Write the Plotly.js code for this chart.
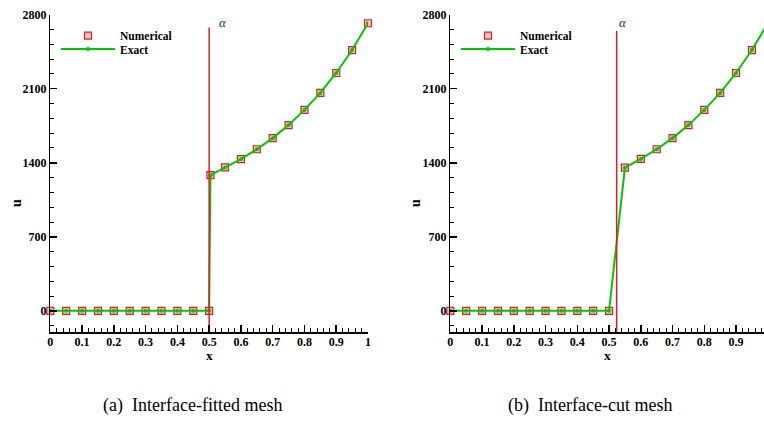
<!DOCTYPE html>
<html><head><meta charset="utf-8">
<script src="https://cdn.plot.ly/plotly-3.0.1.min.js"></script>
<style>html,body{margin:0;padding:0;background:#fff}#chart{width:764px;height:425px}</style>
</head><body><div id="chart"></div>
<script>
// ---- data ----
const xFitted = [0,0.05,0.1,0.15,0.2,0.25,0.3,0.35,0.4,0.45,0.5,0.504,0.55,0.6,0.65,0.7,0.75,0.8,0.85,0.9,0.95,1.0];
const uFittedNumerical = [0,0,0,0,0,0,0,0,0,0,0,1283,1356,1434,1528,1633,1756,1900,2060,2249,2466,2719];
const uFittedExact = [0,0,0,0,0,0,0,0,0,0,0,1283,1356,1434,1528,1633,1756,1900,2060,2249,2466,2719];
const xCut = [0,0.05,0.1,0.15,0.2,0.25,0.3,0.35,0.4,0.45,0.5,0.55,0.6,0.65,0.7,0.75,0.8,0.85,0.9,0.95,1.0];
const uCutNumerical = [0,0,0,0,0,0,0,0,0,0,0,1354,1436,1528,1633,1756,1900,2060,2249,2466,2719];
const uCutExact = [0,0,0,0,0,0,0,0,0,0,0,1354,1436,1528,1633,1756,1900,2060,2249,2466,2719];
const interfaceFittedX = [0.5, 0.5];
const interfaceCutX = [0.524, 0.524];
const interfaceFittedY = [-200, 2680];
const interfaceCutY = [-200, 2646];
const alphaLabelPos = [0.543, 2722];
const seriesNames = ['Numerical', 'Exact'];
const axisTitles = ['x', 'u'];
const captions = ['(a)\u00a0 Interface-fitted mesh', '(b)\u00a0 Interface-cut mesh'];
const yTickStep = 700;

const W = 764, H = 425;
const SERIF = 'Liberation Serif';
const boldFont = {family: SERIF, size: 12, color: '#000', weight: 'bold'};
const legendFont = {family: SERIF, size: 11.5, color: '#000', weight: 'bold'};
const titleFont = {family: SERIF, size: 14, color: '#000', weight: 'bold'};
const RED = 'rgb(222,30,30)';
const GREEN = 'rgb(0,200,0)';

function px(v){ return v / W; }
function py(v){ return 1 - v / H; }

function numTrace(x, y, xa, ya, lg){
  return {type:'scatter', mode:'markers', x:x, y:y, xaxis:xa, yaxis:ya, name:seriesNames[0], legend:lg,
    marker:{symbol:'square', size:7, color:'rgba(240,120,120,0.45)', line:{color:RED, width:1.2}}, cliponaxis:false};
}
function exTrace(x, y, xa, ya, lg){
  return {type:'scatter', mode:'lines+markers', x:x, y:y, xaxis:xa, yaxis:ya, name:seriesNames[1], legend:lg,
    line:{color:GREEN, width:2}, marker:{color:GREEN, size:4}};
}
function ifaceTrace(x, y, xa, ya){
  return {type:'scatter', mode:'lines', x:x, y:y, xaxis:xa, yaxis:ya, showlegend:false, hoverinfo:'skip',
    line:{color:RED, width:1.5}};
}

const data = [
  numTrace(xFitted, uFittedNumerical, 'x', 'y', 'legend'),
  exTrace(xFitted, uFittedExact, 'x', 'y', 'legend2'),
  ifaceTrace(interfaceFittedX, interfaceFittedY, 'x', 'y'),
  numTrace(xCut, uCutNumerical, 'x2', 'y2', 'legend3'),
  exTrace(xCut, uCutExact, 'x2', 'y2', 'legend4'),
  ifaceTrace(interfaceCutX, interfaceCutY, 'x2', 'y2')
];

function xAxis(dom, rng, anchor){
  return {domain:dom, range:rng, anchor:anchor, showline:true, linecolor:'#000', linewidth:1.5,
    ticks:'inside', ticklen:7, tickwidth:1.5, tickcolor:'#000', tick0:0, dtick:0.1,
    minor:{dtick:0.02, ticks:'inside', ticklen:4, tickwidth:1, tickcolor:'#000', showgrid:false},
    showgrid:false, zeroline:false, tickfont:boldFont, fixedrange:true, ticklabelstandoff:-2};
}
function yAxis(anchor){
  return {domain:[py(332), py(14.7)], range:[-200, 2800], anchor:anchor, showline:true, linecolor:'#000', linewidth:1.5,
    ticks:'inside', ticklen:7, tickwidth:1.5, tickcolor:'#000', tick0:0, dtick:yTickStep,
    minor:{dtick:yTickStep/5, ticks:'inside', ticklen:4, tickwidth:1, tickcolor:'#000', showgrid:false},
    showgrid:false, zeroline:false, tickfont:boldFont, fixedrange:true};
}
function legendAt(x, y, w){
  return {x:px(x), y:py(y), xanchor:'left', yanchor:'middle', bgcolor:'rgba(0,0,0,0)', borderwidth:0,
    itemwidth:w, font:legendFont, itemclick:false, itemdoubleclick:false};
}
function ann(o){ return Object.assign({showarrow:false, xanchor:'center', yanchor:'middle'}, o); }

const annotations = [
  ann({xref:'x', yref:'y', x:alphaLabelPos[0], y:alphaLabelPos[1], text:'α',
   font:{family:SERIF, size:13, color:'#333', style:'italic'}}),
  ann({xref:'x2', yref:'y2', x:alphaLabelPos[0], y:alphaLabelPos[1], text:'α',
   font:{family:SERIF, size:13, color:'#333', style:'italic'}}),
  ann({xref:'x domain', yref:'paper', x:0.5, y:py(347), yanchor:'top', borderpad:0, text:axisTitles[0],
   font:{family:SERIF, size:13.5, color:'#000', weight:'bold'}}),
  ann({xref:'x2 domain', yref:'paper', x:0.5, y:py(347), yanchor:'top', borderpad:0, text:axisTitles[0],
   font:{family:SERIF, size:13.5, color:'#000', weight:'bold'}}),
  ann({xref:'paper', yref:'paper', x:px(16), y:py(203), text:axisTitles[1], textangle:-90, font:titleFont}),
  ann({xref:'paper', yref:'paper', x:px(415), y:py(203), text:axisTitles[1], textangle:-90, font:titleFont}),
  ann({xref:'paper', yref:'paper', x:px(192), y:py(405), text:captions[0],
   font:{family:SERIF, size:18, color:'#000'}}),
  ann({xref:'paper', yref:'paper', x:px(590), y:py(405), text:captions[1],
   font:{family:SERIF, size:18, color:'#000'}})
];

const layout = {
  width:W, height:H, margin:{l:0, r:0, t:0, b:0}, paper_bgcolor:'#fff', plot_bgcolor:'rgba(0,0,0,0)',
  font:{family:SERIF, color:'#000'},
  xaxis:xAxis([px(50.3), px(368)], [0, 1], 'y'),
  yaxis:yAxis('x'),
  xaxis2:xAxis([px(450.3), 1], [0, (764-450.3)/317.5], 'y2'),
  yaxis2:yAxis('x2'),
  legend:legendAt(56, 35.7, 54),
  legend2:legendAt(56, 49, 54),
  legend3:legendAt(456, 35.7, 54),
  legend4:legendAt(456, 49, 54),
  annotations:annotations,
  showlegend:true
};

Plotly.newPlot('chart', data, layout, {displayModeBar:false, staticPlot:true});
</script>
</body></html>
